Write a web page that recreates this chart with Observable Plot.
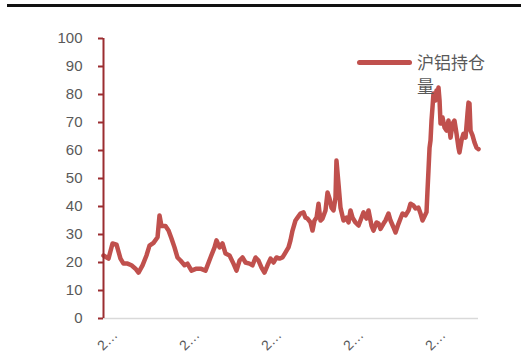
<!DOCTYPE html>
<html>
<head>
<meta charset="utf-8">
<script src="https://cdn.jsdelivr.net/npm/d3@7"></script>
<script src="https://cdn.jsdelivr.net/npm/@observablehq/plot@0.6"></script>
<style>
  html, body { margin: 0; padding: 0; background: #fff; }
  #wrap { position: relative; width: 521px; height: 351px; overflow: hidden; font-family: "Liberation Sans", "Noto Sans CJK SC", sans-serif; }
  #topline { position: absolute; left: 7px; top: 4px; width: 514px; height: 3px; background: #111; }
  #legend-line { position: absolute; left: 357px; top: 60px; width: 55px; height: 5px; background: #C0504D; border-radius: 2.5px; }
  #legend-text { position: absolute; left: 417px; top: 50px; width: 74px; font-family: "Noto Sans CJK SC", sans-serif; font-size: 17px; line-height: 24px; color: #595959; }
  #chart { position: absolute; left: 0; top: 0; }
</style>
</head>
<body>
<div id="wrap">
  <div id="chart"></div>
  <div id="topline"></div>
  <div id="legend-line"></div>
  <div id="legend-text"></div>
</div>
<script>
const seriesName = "沪铝持仓量";
const years = [
  2010.000, 2010.061, 2010.110, 2010.159, 2010.207, 2010.244, 2010.293, 2010.341, 2010.390, 2010.427,
  2010.476, 2010.524, 2010.561, 2010.610, 2010.659, 2010.683, 2010.707, 2010.756, 2010.793, 2010.829,
  2010.866, 2010.902, 2010.939, 2010.988, 2011.024, 2011.073, 2011.134, 2011.183, 2011.244, 2011.305,
  2011.354, 2011.378, 2011.415, 2011.451, 2011.488, 2011.537, 2011.585, 2011.622, 2011.659, 2011.695,
  2011.732, 2011.780, 2011.817, 2011.854, 2011.890, 2011.927, 2011.963, 2012.000, 2012.037, 2012.073,
  2012.110, 2012.146, 2012.183, 2012.220, 2012.256, 2012.280, 2012.305, 2012.341, 2012.366, 2012.402,
  2012.439, 2012.463, 2012.488, 2012.524, 2012.549, 2012.573, 2012.598, 2012.622, 2012.646, 2012.671,
  2012.707, 2012.732, 2012.756, 2012.780, 2012.805, 2012.829, 2012.841, 2012.866, 2012.890, 2012.927,
  2012.963, 2012.988, 2013.012, 2013.037, 2013.073, 2013.110, 2013.146, 2013.171, 2013.207, 2013.232,
  2013.268, 2013.293, 2013.329, 2013.354, 2013.378, 2013.415, 2013.439, 2013.476, 2013.500, 2013.537,
  2013.561, 2013.598, 2013.622, 2013.646, 2013.683, 2013.720, 2013.744, 2013.780, 2013.805, 2013.841,
  2013.866, 2013.890, 2013.915, 2013.939, 2013.951, 2013.963, 2013.976, 2013.988, 2014.000, 2014.012,
  2014.024, 2014.037, 2014.049, 2014.061, 2014.073, 2014.085, 2014.098, 2014.110, 2014.134, 2014.159,
  2014.183, 2014.207, 2014.232, 2014.256, 2014.280, 2014.305, 2014.329, 2014.341, 2014.366, 2014.390,
  2014.415, 2014.439, 2014.451, 2014.463, 2014.476, 2014.500, 2014.524, 2014.549, 2014.573
];
const values = [
  22.5, 21.4, 26.8, 26.4, 21.4, 19.6, 19.6, 19.0, 17.8, 16.4,
  19.0, 22.5, 26.0, 27.0, 29.0, 36.8, 33.0, 33.0, 31.4, 28.6,
  25.4, 21.8, 20.7, 19.0, 19.6, 17.1, 17.8, 17.8, 17.1, 21.8,
  25.4, 27.9, 25.4, 26.8, 23.2, 22.5, 19.6, 17.1, 20.7, 21.8,
  20.0, 19.6, 19.0, 21.8, 20.7, 18.2, 16.4, 19.0, 21.4, 20.0,
  21.8, 21.4, 21.8, 23.6, 25.4, 27.9, 31.4, 35.0, 36.0, 37.5,
  37.9, 36.0, 35.7, 34.3, 31.4, 35.0, 36.0, 41.0, 35.0, 35.7,
  38.6, 45.0, 42.9, 39.6, 38.6, 43.2, 56.4, 48.0, 39.6, 35.0,
  36.0, 34.3, 38.6, 36.0, 34.3, 33.2, 36.0, 37.9, 35.7, 38.6,
  33.2, 31.4, 34.3, 33.9, 32.0, 33.9, 35.0, 37.5, 35.0, 32.5,
  30.7, 33.9, 35.7, 37.5, 36.8, 38.6, 41.0, 40.4, 39.3, 39.6,
  37.5, 35.0, 36.5, 38.0, 45.7, 52.9, 61.0, 63.6, 70.7, 75.4,
  80.4, 78.6, 77.9, 81.4, 80.4, 82.5, 77.9, 69.6, 71.8, 68.2,
  67.1, 70.7, 64.6, 69.6, 70.7, 66.0, 61.0, 59.3, 63.6, 66.0,
  64.6, 73.2, 77.1, 76.8, 67.1, 65.4, 62.9, 61.0, 60.5
];
const yTicks = [0, 10, 20, 30, 40, 50, 60, 70, 80, 90, 100];
const xTicks = [2010, 2011, 2012, 2013, 2014];
const xTickLabels = ["2…", "2…", "2…", "2…", "2…"];

const data = years.map((t, i) => ({t, v: values[i]}));
const xLabelData = xTicks.map((t, i) => ({t, label: xTickLabels[i]}));

const chart = Plot.plot({
  width: 521,
  height: 351,
  marginLeft: 103,
  marginRight: 43,
  marginTop: 38,
  marginBottom: 33,
  style: {fontFamily: "Liberation Sans, sans-serif", background: "transparent", overflow: "visible"},
  x: {type: "linear", domain: [2010, years[years.length - 1]]},
  y: {domain: [0, 100]},
  marks: [
    Plot.ruleY([0], {stroke: "#D9D9D9", strokeWidth: 1.5}),
    Plot.line(data, {x: "t", y: "v", stroke: "#C0504D", strokeWidth: 4.5, strokeLinejoin: "round", strokeLinecap: "round"}),
    Plot.ruleX([2010], {y1: 0, y2: 100, stroke: "#9B2D30", strokeWidth: 2}),
    Plot.axisY({ticks: yTicks, tickSize: 5, tickPadding: 16, stroke: "#9B2D30", strokeWidth: 2, fill: "#595959", fontSize: 15, label: null}),
    Plot.axisX({ticks: [], label: null}),
    Plot.text(xLabelData, {x: "t", y: () => 0, text: "label", rotate: -45, dy: 22, dx: 4, fontSize: 14, fill: "#595959", textAnchor: "middle"})
  ]
});
document.getElementById("chart").appendChild(chart);
document.getElementById("legend-text").textContent = seriesName;
</script>
</body>
</html>
